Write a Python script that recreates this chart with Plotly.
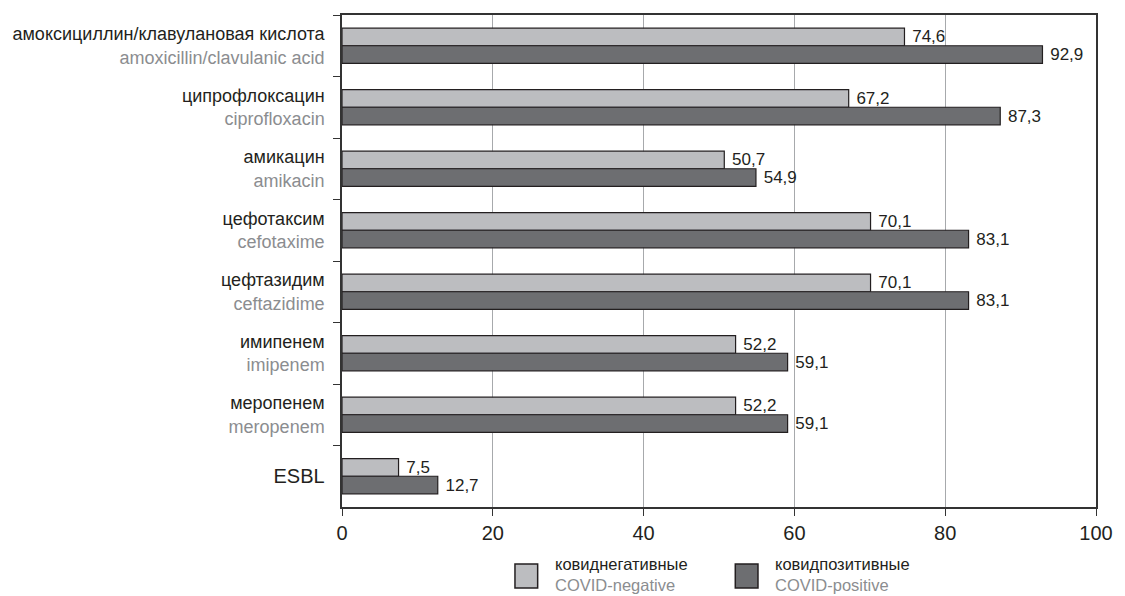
import plotly.graph_objects as go

# Drug names (Russian / English) and ESBL production
names_ru = ["амоксициллин/клавулановая кислота", "ципрофлоксацин", "амикацин",
            "цефотаксим", "цефтазидим", "имипенем", "меропенем", "ESBL"]
names_en = ["amoxicillin/clavulanic acid", "ciprofloxacin", "amikacin",
            "cefotaxime", "ceftazidime", "imipenem", "meropenem", ""]

# Resistance, %
covid_negative = [74.6, 67.2, 50.7, 70.1, 70.1, 52.2, 52.2, 7.5]
covid_positive = [92.9, 87.3, 54.9, 83.1, 83.1, 59.1, 59.1, 12.7]

x_ticks = [0, 20, 40, 60, 80, 100]

FONT = "Liberation Sans"
LIGHT = "#bcbdc0"
DARK = "#6d6e71"
EDGE = "#231f20"
GREY_TXT = "#8b8d90"


def cat_label(ru, en):
    if not en:
        return f"<span style='font-size:20px'>{ru}</span>"
    return f"{ru}<br><span style='color:{GREY_TXT}'>{en}</span>"


cats = [cat_label(r, e) for r, e in zip(names_ru, names_en)]


def fmt(v):
    return "\u00a0" + f"{v:.1f}".replace(".", ",")


bar_text_font = dict(family=FONT, size=17, color="#231f20")

fig = go.Figure()
fig.add_trace(go.Bar(
    y=cats, x=covid_negative, orientation="h", name="ковиднегативные",
    marker=dict(color=LIGHT, line=dict(color=EDGE, width=1.2)),
    text=[fmt(v) for v in covid_negative], textposition="outside",
    textfont=bar_text_font, constraintext="none", cliponaxis=False,
))
fig.add_trace(go.Bar(
    y=cats, x=covid_positive, orientation="h", name="ковидпозитивные",
    marker=dict(color=DARK, line=dict(color=EDGE, width=1.2)),
    text=[fmt(v) for v in covid_positive], textposition="outside",
    textfont=bar_text_font, constraintext="none", cliponaxis=False,
))

fig.update_layout(
    width=1125, height=596,
    margin=dict(l=342, r=20, t=15, b=89),
    plot_bgcolor="white", paper_bgcolor="white",
    barmode="group", bargap=0.43, bargroupgap=0,
    showlegend=False,
    font=dict(family=FONT, size=18, color="#231f20"),
)
fig.update_xaxes(
    range=[0, 100], tickvals=x_ticks, ticktext=[str(t) for t in x_ticks],
    showgrid=True, gridcolor="#a7a9ac", gridwidth=1,
    showline=True, linecolor="#333333", linewidth=1.5, mirror=True,
    ticks="outside", ticklen=7, tickcolor="#333333",
    tickfont=dict(size=20), zeroline=False,
)
fig.update_yaxes(
    autorange="reversed", tickson="boundaries",
    showline=True, linecolor="#333333", linewidth=1.5, mirror=True,
    ticks="outside", ticklen=7, tickcolor="#333333",
    ticklabelstandoff=12, showgrid=False,
    tickfont=dict(size=18),
)

# Legend drawn below the axis: swatch plus two-line caption
legend_items = [
    (LIGHT, "ковиднегативные", "COVID-negative", 0.2294),
    (DARK, "ковидпозитивные", "COVID-positive", 0.5216),
]
for color, ru, en, x0 in legend_items:
    fig.add_shape(type="rect", xref="paper", yref="paper",
                  x0=x0, x1=x0 + 0.0301, y0=-0.1646, y1=-0.1159,
                  fillcolor=color, line=dict(color=EDGE, width=1.5))
    fig.add_annotation(xref="paper", yref="paper", x=x0 + 0.0498, y=-0.1382,
                       text=f"{ru}<br><span style='color:{GREY_TXT}'>{en}</span>",
                       showarrow=False, xanchor="left", yanchor="middle",
                       align="left",
                       font=dict(family=FONT, size=16.5, color="#231f20"))

fig.write_html("out.html")
